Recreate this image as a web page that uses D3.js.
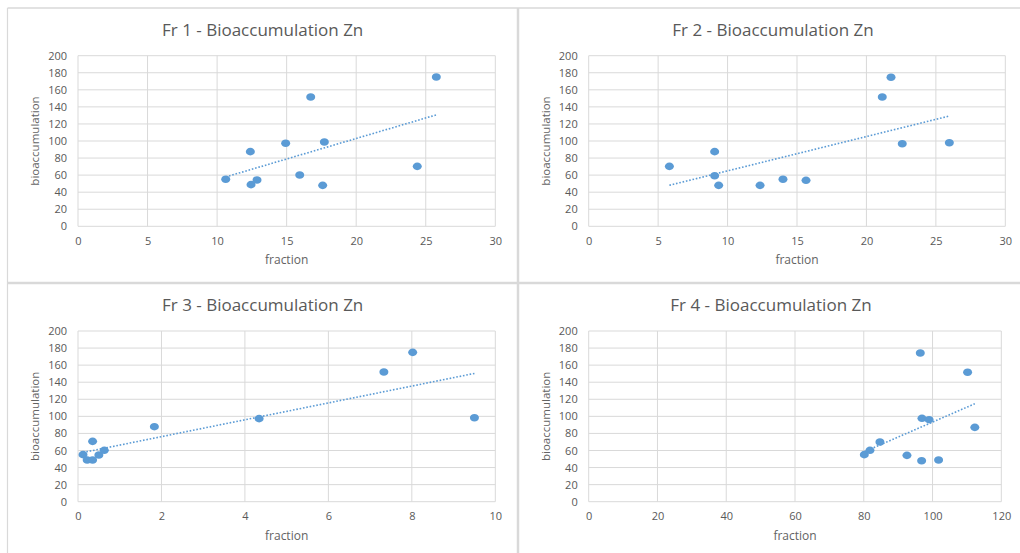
<!DOCTYPE html>
<html>
<head>
<meta charset="utf-8">
<script src="https://cdn.jsdelivr.net/npm/d3@7"></script>
<style>
  html, body { margin: 0; padding: 0; background: #ffffff; }
  svg { display: block; }
  text { font-family: "Open Sans", "Liberation Sans", sans-serif; fill: #595959; }
</style>
</head>
<body>
<svg id="chart" width="1020" height="553"></svg>
<script>
// ---- Data ----
const titles = ["Fr 1 - Bioaccumulation Zn", "Fr 2 - Bioaccumulation Zn", "Fr 3 - Bioaccumulation Zn", "Fr 4 - Bioaccumulation Zn"];
const xAxisTitle = "fraction";
const yAxisTitle = "bioaccumulation";
const xMaxes = [30, 30, 10, 120];
const xTickSteps = [5, 5, 2, 20];
const yTicks = [0, 20, 40, 60, 80, 100, 120, 140, 160, 180, 200];

const fr1Fraction = [10.62, 12.39, 12.44, 12.87, 14.93, 16.73, 15.94, 17.71, 17.59, 24.39, 25.76];
const fr1Bio      = [55.1, 87.5, 48.8, 54.3, 97.3, 151.6, 60.1, 98.8, 48.0, 70.3, 175.0];

const fr2Fraction = [5.81, 9.07, 9.07, 9.36, 12.34, 13.99, 15.65, 21.14, 21.77, 22.58, 25.97];
const fr2Bio      = [70.3, 87.5, 59.3, 48.0, 48.0, 55.1, 53.9, 151.6, 174.7, 96.8, 98.0];

const fr3Fraction = [0.12, 0.22, 0.35, 0.35, 0.50, 0.63, 1.83, 4.34, 7.33, 8.02, 9.50];
const fr3Bio      = [55.1, 48.8, 48.8, 70.7, 54.7, 60.2, 87.9, 97.3, 152.0, 175.0, 98.4];

const fr4Fraction = [80.16, 81.8, 84.7, 92.56, 96.44, 96.83, 96.93, 99.0, 101.76, 110.2, 112.3];
const fr4Bio      = [55.1, 60.2, 69.9, 54.3, 174.2, 48.0, 97.7, 96.1, 48.8, 151.6, 87.1];

const fractions = [fr1Fraction, fr2Fraction, fr3Fraction, fr4Fraction];
const bios = [fr1Bio, fr2Bio, fr3Bio, fr4Bio];

// ---- Layout ----
const plotBoxes = [
  { left: 78,    right: 495.3,  top: 55.7, bottom: 226.3, titleY: 36 },
  { left: 588.7, right: 1005.3, top: 55.7, bottom: 226.3, titleY: 36 },
  { left: 78,    right: 495.3,  top: 331,  bottom: 501.7, titleY: 311 },
  { left: 588.7, right: 1001.3, top: 331,  bottom: 501.7, titleY: 311 }
];
const blue = "#5B9BD5";
const gridColor = "#d9d9d9";
const textColor = "#636363";

const svg = d3.select("#chart");

// Panel frame lines
const frame = svg.append("g").attr("stroke", gridColor).attr("fill", "none");
frame.append("line").attr("x1", 7.5).attr("x2", 7.5).attr("y1", 8).attr("y2", 553).attr("stroke-width", 1.2);
frame.append("line").attr("x1", 7.5).attr("x2", 1020).attr("y1", 8).attr("y2", 8).attr("stroke-width", 1.5);
frame.append("line").attr("x1", 518).attr("x2", 518).attr("y1", 8).attr("y2", 553).attr("stroke-width", 2.5);
frame.append("line").attr("x1", 7.5).attr("x2", 1020).attr("y1", 283).attr("y2", 283).attr("stroke-width", 2.5);

function linReg(xs, ys) {
  const mx = d3.mean(xs), my = d3.mean(ys);
  let sxy = 0, sxx = 0;
  xs.forEach((x, i) => { sxy += (x - mx) * (ys[i] - my); sxx += (x - mx) * (x - mx); });
  const b = sxy / sxx;
  return { a: my - b * mx, b: b };
}

plotBoxes.forEach((box, i) => {
  const g = svg.append("g");
  const x = d3.scaleLinear().domain([0, xMaxes[i]]).range([box.left, box.right]);
  const y = d3.scaleLinear().domain([0, 200]).range([box.bottom, box.top]);
  const xTicks = d3.range(0, xMaxes[i] + 0.001, xTickSteps[i]);

  // Gridlines
  g.append("g").selectAll("line.h").data(yTicks).join("line")
    .attr("x1", box.left).attr("x2", box.right)
    .attr("y1", d => y(d)).attr("y2", d => y(d))
    .attr("stroke", gridColor).attr("stroke-width", 1);
  g.append("g").selectAll("line.v").data(xTicks).join("line")
    .attr("x1", d => x(d)).attr("x2", d => x(d))
    .attr("y1", box.top).attr("y2", box.bottom)
    .attr("stroke", gridColor).attr("stroke-width", 1);

  // Axes (labels only, using d3 axes)
  const yAxis = g.append("g").attr("transform", `translate(${box.left},0)`)
    .call(d3.axisLeft(y).tickValues(yTicks).tickSize(0).tickPadding(11));
  const xAxis = g.append("g").attr("transform", `translate(0,${box.bottom})`)
    .call(d3.axisBottom(x).tickValues(xTicks).tickSize(0).tickPadding(11));
  [yAxis, xAxis].forEach(a => {
    a.select(".domain").remove();
    a.selectAll("text").style("font-size", "11px").attr("fill", textColor)
      .style("font-family", "'Open Sans', 'Liberation Sans', sans-serif");
  });

  // Titles
  g.append("text").attr("x", (box.left + box.right) / 2 - 24).attr("y", box.titleY)
    .attr("text-anchor", "middle").style("font-size", "17px").text(titles[i]);
  g.append("text").attr("x", (box.left + box.right) / 2).attr("y", box.bottom + 38)
    .attr("text-anchor", "middle").style("font-size", "12px").style("fill", textColor).text(xAxisTitle);
  g.append("text")
    .attr("transform", `translate(${box.left - 39},${(box.top + box.bottom) / 2}) rotate(-90)`)
    .attr("text-anchor", "middle").style("font-size", "11.5px").style("fill", textColor).text(yAxisTitle);

  // Trendline (least squares from data)
  const xs = fractions[i], ys = bios[i];
  const r = linReg(xs, ys);
  const ext = d3.extent(xs);
  g.append("line")
    .attr("x1", x(ext[0])).attr("y1", y(r.a + r.b * ext[0]))
    .attr("x2", x(ext[1])).attr("y2", y(r.a + r.b * ext[1]))
    .attr("stroke", blue).attr("stroke-width", 1.6)
    .attr("stroke-dasharray", "1.6,1.8");

  // Points
  g.append("g").selectAll("ellipse").data(xs.map((v, k) => [v, ys[k]])).join("ellipse")
    .attr("cx", d => x(d[0])).attr("cy", d => y(d[1]))
    .attr("rx", 4.5).attr("ry", 3.8)
    .attr("fill", blue);
});
</script>
</body>
</html>
